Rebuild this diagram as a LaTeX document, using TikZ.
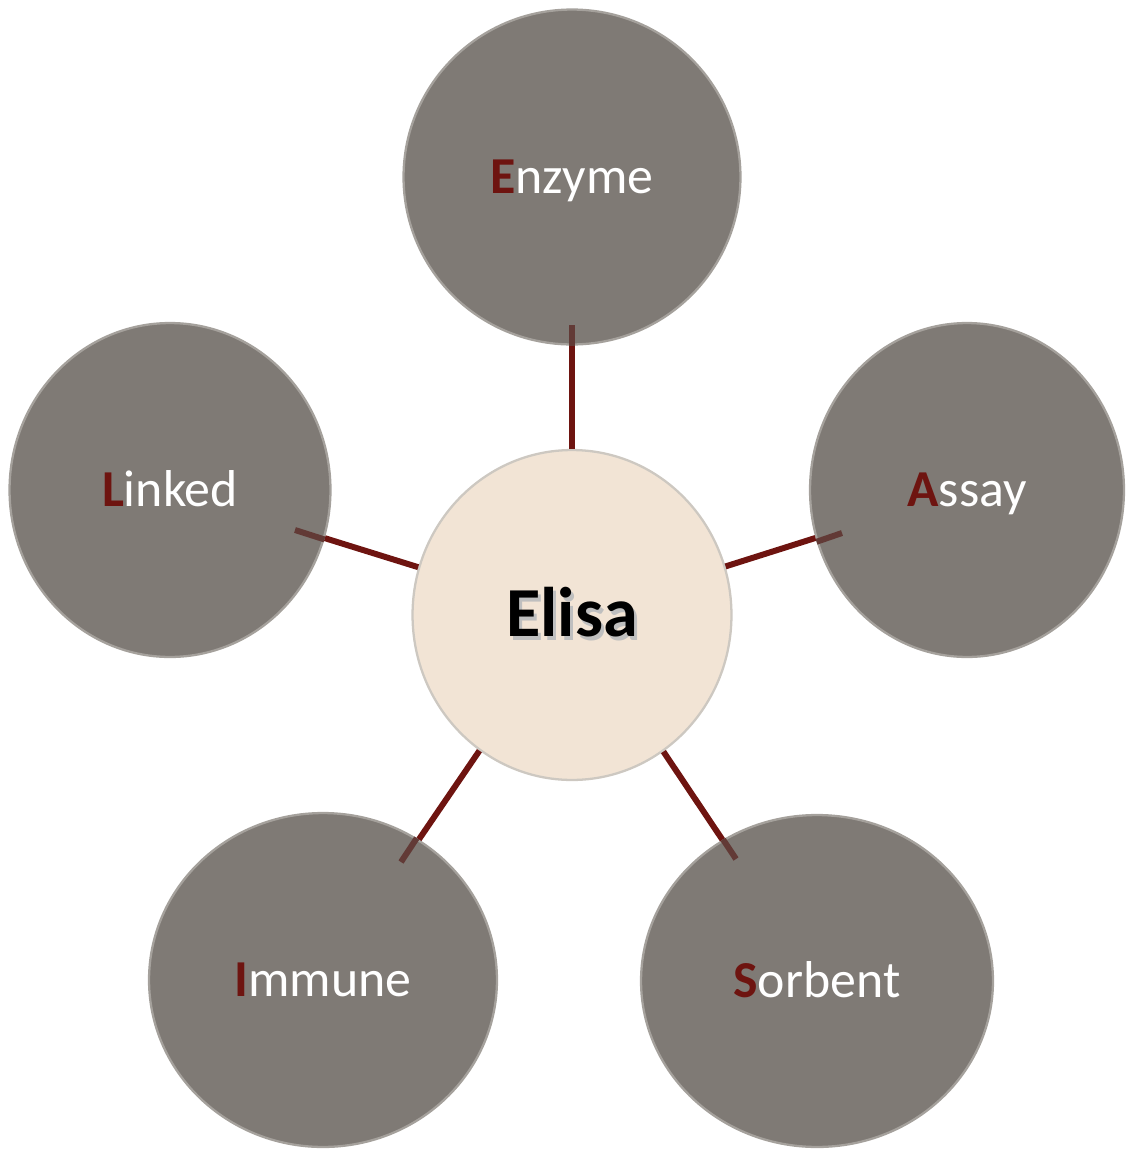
\documentclass[tikz,border=0pt]{standalone}
\usepackage{fontspec}
\setmainfont{Carlito}
\usepackage{xcolor}
\usepackage{tikz}
\usetikzlibrary{shapes.geometric}

\definecolor{petalgray}{RGB}{127,122,117}
\definecolor{petalrim}{RGB}{165,161,156}
\definecolor{hubcream}{RGB}{242,228,213}
\definecolor{hubrim}{RGB}{205,200,193}
\definecolor{linkred}{RGB}{110,20,16}
\definecolor{linkdim}{RGB}{98,58,54}
\newcommand{\firstletter}[1]{\textbf{\color{linkred}#1}}

\begin{document}
\begin{tikzpicture}[x=0.02cm, y=-0.02cm,
    petal/.style={ellipse, fill=petalgray, draw=petalrim, line width=1.3pt, inner sep=0pt,
      text=white, font=\fontsize{29.5}{34}\selectfont, text height=19pt, text depth=0pt},
    hub/.style={ellipse, fill=hubcream, draw=hubrim, line width=1.3pt, inner sep=0pt,
      text=black, font=\fontsize{40}{46}\selectfont\bfseries, text height=25pt, text depth=0pt},
    link/.style={draw=linkred, line width=3.4pt},
    linkin/.style={draw=linkdim, line width=3.4pt}]
		\useasboundingbox (0,0) rectangle (1127,1153);
		\node[hub, minimum width=6.38cm, minimum height=6.6cm] (elisa) at (572,615)
		  {\makebox[0pt][l]{\kern1.8pt\raisebox{-1.8pt}{\color{black!25}Elisa}}Elisa};
		\node[petal, minimum width=6.74cm, minimum height=6.7cm] (enzyme) at (572,177) {\firstletter{E}nzyme};
		\node[petal, minimum width=6.28cm, minimum height=6.68cm] (assay) at (967,490) {\firstletter{A}ssay};
		\node[petal, minimum width=6.42cm, minimum height=6.68cm] (linked) at (170,490) {\firstletter{L}inked};
		\node[petal, minimum width=6.96cm, minimum height=6.68cm] (immune) at (323,980) {\firstletter{I}mmune};
		\node[petal, minimum width=7.04cm, minimum height=6.64cm] (sorbent) at (817,981) {\firstletter{S}orbent};
		\coordinate (enzyme-in) at (572,325);
		\coordinate (assay-in) at (842,533);
		\coordinate (linked-in) at (295,530);
		\coordinate (immune-in) at (401,862);
		\coordinate (sorbent-in) at (736,859);
		\draw[link] (elisa) -- (enzyme);
		\draw[linkin] (enzyme) -- (enzyme-in);
		\draw[link] (elisa) -- (assay);
		\draw[linkin] (assay) -- (assay-in);
		\draw[link] (elisa) -- (linked);
		\draw[linkin] (linked) -- (linked-in);
		\draw[link] (elisa) -- (immune);
		\draw[linkin] (immune) -- (immune-in);
		\draw[link] (elisa) -- (sorbent);
		\draw[linkin] (sorbent) -- (sorbent-in);
\end{tikzpicture}
\end{document}
